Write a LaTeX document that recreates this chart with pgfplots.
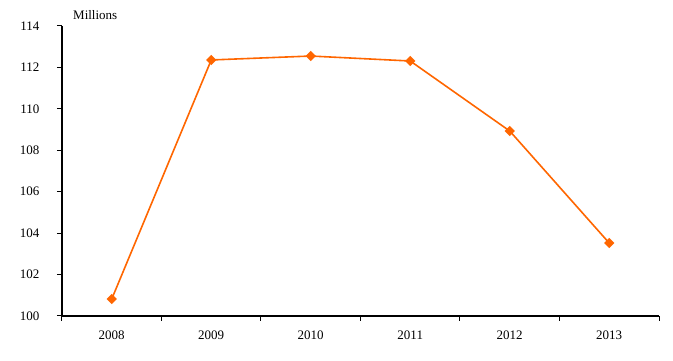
\documentclass[border=0pt]{standalone}
\usepackage{pgfplots}
\pgfplotsset{compat=1.18}
\usepackage{fontspec}
\setmainfont{Liberation Serif}
\definecolor{lineor}{HTML}{FF6600}
\begin{document}
\begin{tikzpicture}[x=1pt,y=1pt,font=\fontsize{13}{15}\selectfont]
\useasboundingbox (0,0) rectangle (673,361);
\begin{axis}[
  at={(62pt,45pt)}, anchor=south west,
  scale only axis, width=597pt, height=290pt,
  xmin=-0.5, xmax=5.5, ymin=100, ymax=114,
  ytick={100,102,...,114},
  xtick={0,1,2,3,4,5},
  xticklabels={2008,2009,2010,2011,2012,2013},
  minor xtick={-0.5,0.5,1.5,2.5,3.5,4.5,5.5},
  axis x line*=bottom, axis y line*=left,
  axis line style={line width=1.2pt, -},
  tick align=outside,
  major tick length=5pt, minor tick length=5pt,
  x tick style={draw=none},
  minor x tick style={draw=black, line width=1pt},
  y tick style={line width=1pt, black},
  xticklabel style={yshift=-6pt},
  yticklabel style={xshift=-14pt},
  /pgf/number format/assume math mode=true,
  clip=false,
]
\addplot[color=lineor, line width=1.6pt, mark=square*, mark size=2.8pt, mark options={solid, fill=lineor, rotate=45}]
coordinates {(0,100.82) (1,112.36) (2,112.55) (3,112.31) (4,108.93) (5,103.52)};
\node[anchor=base west, inner sep=0pt] at (rel axis cs:0,1) [xshift=11pt, yshift=6pt] {Millions};
\end{axis}
\end{tikzpicture}
\end{document}
